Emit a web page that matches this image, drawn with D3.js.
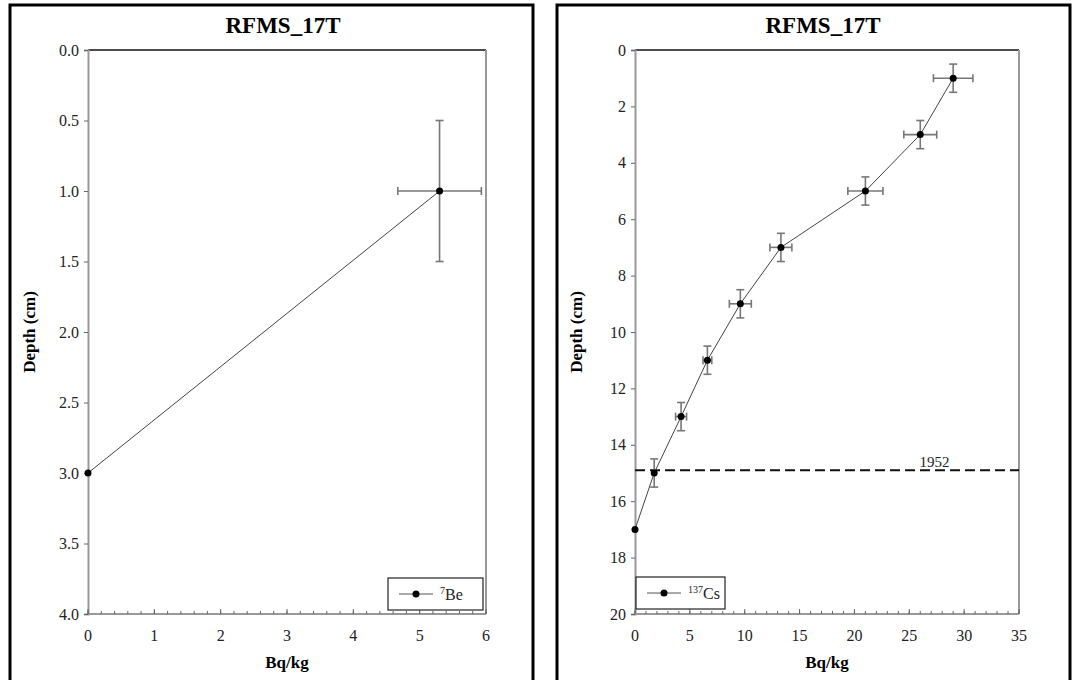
<!DOCTYPE html>
<html>
<head>
<meta charset="utf-8">
<script src="https://cdn.jsdelivr.net/npm/d3@7"></script>
<style>
  body { margin: 0; background: #fff; }
  svg text { font-family: "Liberation Serif", Tinos, "Times New Roman", Times, "DejaVu Serif", serif; }
</style>
</head>
<body>
<svg id="chart" width="1073" height="680"></svg>
<script>
// 7Be profile
const beDepth = [1, 3];
const beActivity = [5.3, 0];
const beActErr = [0.63, 0];
const beDepthErr = [0.5, 0];

// 137Cs profile
const csDepth = [1, 3, 5, 7, 9, 11, 13, 15, 17];
const csActivity = [29, 26, 21, 13.3, 9.6, 6.6, 4.2, 1.75, 0];
const csActErr = [1.8, 1.5, 1.6, 1.0, 1.0, 0.4, 0.5, 0, 0];
const csDepthErr = [0.5, 0.5, 0.5, 0.5, 0.5, 0.5, 0.5, 0.5, 0];

const beYTicks = [0, 0.5, 1, 1.5, 2, 2.5, 3, 3.5, 4];
const beXTicks = [0, 1, 2, 3, 4, 5, 6];
const csYTicks = [0, 2, 4, 6, 8, 10, 12, 14, 16, 18, 20];
const csXTicks = [0, 5, 10, 15, 20, 25, 30, 35];

const markerDepth1952 = 14.9;
const markerLabel = "1952";
const markerLabelX = 27.3;

const svg = d3.select("#chart");

function drawPanel(p) {
    var g = svg.append("g");
    // outer black frame
    g.append("rect")
        .attr("x", p.frame[0]).attr("y", 5)
        .attr("width", p.frame[1] - p.frame[0]).attr("height", 700)
        .attr("fill", "none").attr("stroke", "#000").attr("stroke-width", 3);

    var x = d3.scaleLinear().domain(p.xDomain).range([p.left, p.right]);
    var y = d3.scaleLinear().domain(p.yDomain).range([50, 614]);

    g.append("text")
        .attr("x", (p.left + p.right) / 2 - 4).attr("y", 33)
        .attr("text-anchor", "middle")
        .attr("font-size", 23).attr("font-weight", "bold")
        .text("RFMS_17T");

    // plot frame: top black, right grey
    g.append("line").attr("x1", p.left).attr("x2", p.right).attr("y1", 50).attr("y2", 50)
        .attr("stroke", "#111").attr("stroke-width", 1.3);
    g.append("line").attr("x1", p.right).attr("x2", p.right).attr("y1", 50).attr("y2", 614)
        .attr("stroke", "#999").attr("stroke-width", 2);

    // y axis
    var yAxis = d3.axisLeft(y).tickValues(p.yTicks).tickSize(4).tickPadding(5)
        .tickFormat(p.yFormat);
    var ya = g.append("g").attr("transform", `translate(${p.left},0)`).call(yAxis);
    ya.attr("font-family", null);
    ya.select(".domain").attr("stroke", "#999").attr("stroke-width", 2);
    ya.selectAll(".tick line").attr("stroke", "#666");
    ya.selectAll("text").attr("font-size", 16).attr("fill", "#222");

    // x axis, ticks pointing inside
    var minor = d3.range(p.xDomain[0], p.xDomain[1] + 1e-9, p.minorStep);
    var xa = g.append("g").attr("transform", "translate(0,614)");
    xa.append("line").attr("x1", p.left).attr("x2", p.right).attr("y1", 0).attr("y2", 0)
        .attr("stroke", "#999").attr("stroke-width", 2);
    xa.selectAll(".minor").data(minor).enter().append("line")
        .attr("x1", d => x(d)).attr("x2", d => x(d))
        .attr("y1", 0).attr("y2", -3)
        .attr("stroke", "#666");
    xa.selectAll(".major").data(p.xTicks).enter().append("line")
        .attr("x1", d => x(d)).attr("x2", d => x(d))
        .attr("y1", 0).attr("y2", -5)
        .attr("stroke", "#666");
    xa.selectAll("text").data(p.xTicks).enter().append("text")
        .attr("x", d => x(d)).attr("y", 27)
        .attr("text-anchor", "middle").attr("font-size", 16).attr("fill", "#222")
        .text(d => d);

    g.append("text")
        .attr("x", (p.left + p.right) / 2).attr("y", 668)
        .attr("text-anchor", "middle").attr("font-size", 17).attr("font-weight", "bold")
        .text("Bq/kg");
    g.append("text")
        .attr("transform", `translate(${p.left - 53},332) rotate(-90)`)
        .attr("text-anchor", "middle").attr("font-size", 17).attr("font-weight", "bold")
        .text("Depth (cm)");

    var pts = p.depth.map((d, i) => ({ d: d, a: p.act[i], ea: p.actErr[i], ed: p.depthErr[i] }));

    if (p.marker) {
        g.append("line")
            .attr("x1", p.left).attr("x2", p.right)
            .attr("y1", y(p.marker)).attr("y2", y(p.marker))
            .attr("stroke", "#111").attr("stroke-width", 2).attr("stroke-dasharray", "10,5");
        g.append("text")
            .attr("x", x(p.markerX)).attr("y", y(p.marker) - 3)
            .attr("text-anchor", "middle").attr("font-size", 15).attr("fill", "#222")
            .text(p.markerText);
    }

    // connecting line
    g.append("path").datum(pts)
        .attr("d", d3.line().x(d => x(d.a)).y(d => y(d.d)))
        .attr("fill", "none").attr("stroke", "#444").attr("stroke-width", 1);

    // error bars
    var eb = g.append("g").attr("stroke", "#777").attr("stroke-width", 1.6);
    pts.filter(d => d.ed > 0).forEach(d => {
        eb.append("line").attr("x1", x(d.a)).attr("x2", x(d.a))
            .attr("y1", y(d.d - d.ed)).attr("y2", y(d.d + d.ed));
        [d.d - d.ed, d.d + d.ed].forEach(v => {
            eb.append("line").attr("x1", x(d.a) - 4).attr("x2", x(d.a) + 4)
                .attr("y1", y(v)).attr("y2", y(v));
        });
    });
    pts.filter(d => d.ea > 0).forEach(d => {
        eb.append("line").attr("x1", x(d.a - d.ea)).attr("x2", x(d.a + d.ea))
            .attr("y1", y(d.d)).attr("y2", y(d.d));
        [d.a - d.ea, d.a + d.ea].forEach(v => {
            eb.append("line").attr("x1", x(v)).attr("x2", x(v))
                .attr("y1", y(d.d) - 4).attr("y2", y(d.d) + 4);
        });
    });

    g.selectAll(".pt").data(pts).enter().append("circle")
        .attr("cx", d => x(d.a)).attr("cy", d => y(d.d)).attr("r", 3.5)
        .attr("fill", "#000");

    // legend
    var lg = g.append("g").attr("transform", `translate(${p.legend[0]},${p.legend[1]})`);
    lg.append("rect").attr("width", p.legend[2]).attr("height", 32)
        .attr("fill", "#fff").attr("stroke", "#222").attr("stroke-width", 1.2);
    lg.append("line").attr("x1", 11).attr("x2", 45).attr("y1", 16).attr("y2", 16)
        .attr("stroke", "#555");
    lg.append("circle").attr("cx", 28).attr("cy", 16).attr("r", 3.5).attr("fill", "#000");
    var t = lg.append("text").attr("x", 52).attr("y", 22).attr("font-size", 16).attr("fill", "#222");
    t.append("tspan").attr("font-size", 10).attr("dy", -6).text(p.iso);
    t.append("tspan").attr("dy", 6).text(p.elem);
}

drawPanel({
    frame: [10, 533], left: 88, right: 486,
    xDomain: [0, 6], yDomain: [0, 4], minorStep: 0.2,
    xTicks: beXTicks, yTicks: beYTicks, yFormat: d3.format(".1f"),
    depth: beDepth, act: beActivity, actErr: beActErr, depthErr: beDepthErr,
    legend: [388, 578, 95], iso: "7", elem: "Be"
});

drawPanel({
    frame: [557, 1070], left: 635, right: 1019,
    xDomain: [0, 35], yDomain: [0, 20], minorStep: 1,
    xTicks: csXTicks, yTicks: csYTicks, yFormat: d3.format("d"),
    depth: csDepth, act: csActivity, actErr: csActErr, depthErr: csDepthErr,
    marker: markerDepth1952, markerX: markerLabelX, markerText: markerLabel,
    legend: [636, 577, 89], iso: "137", elem: "Cs"
});
</script>
</body>
</html>
